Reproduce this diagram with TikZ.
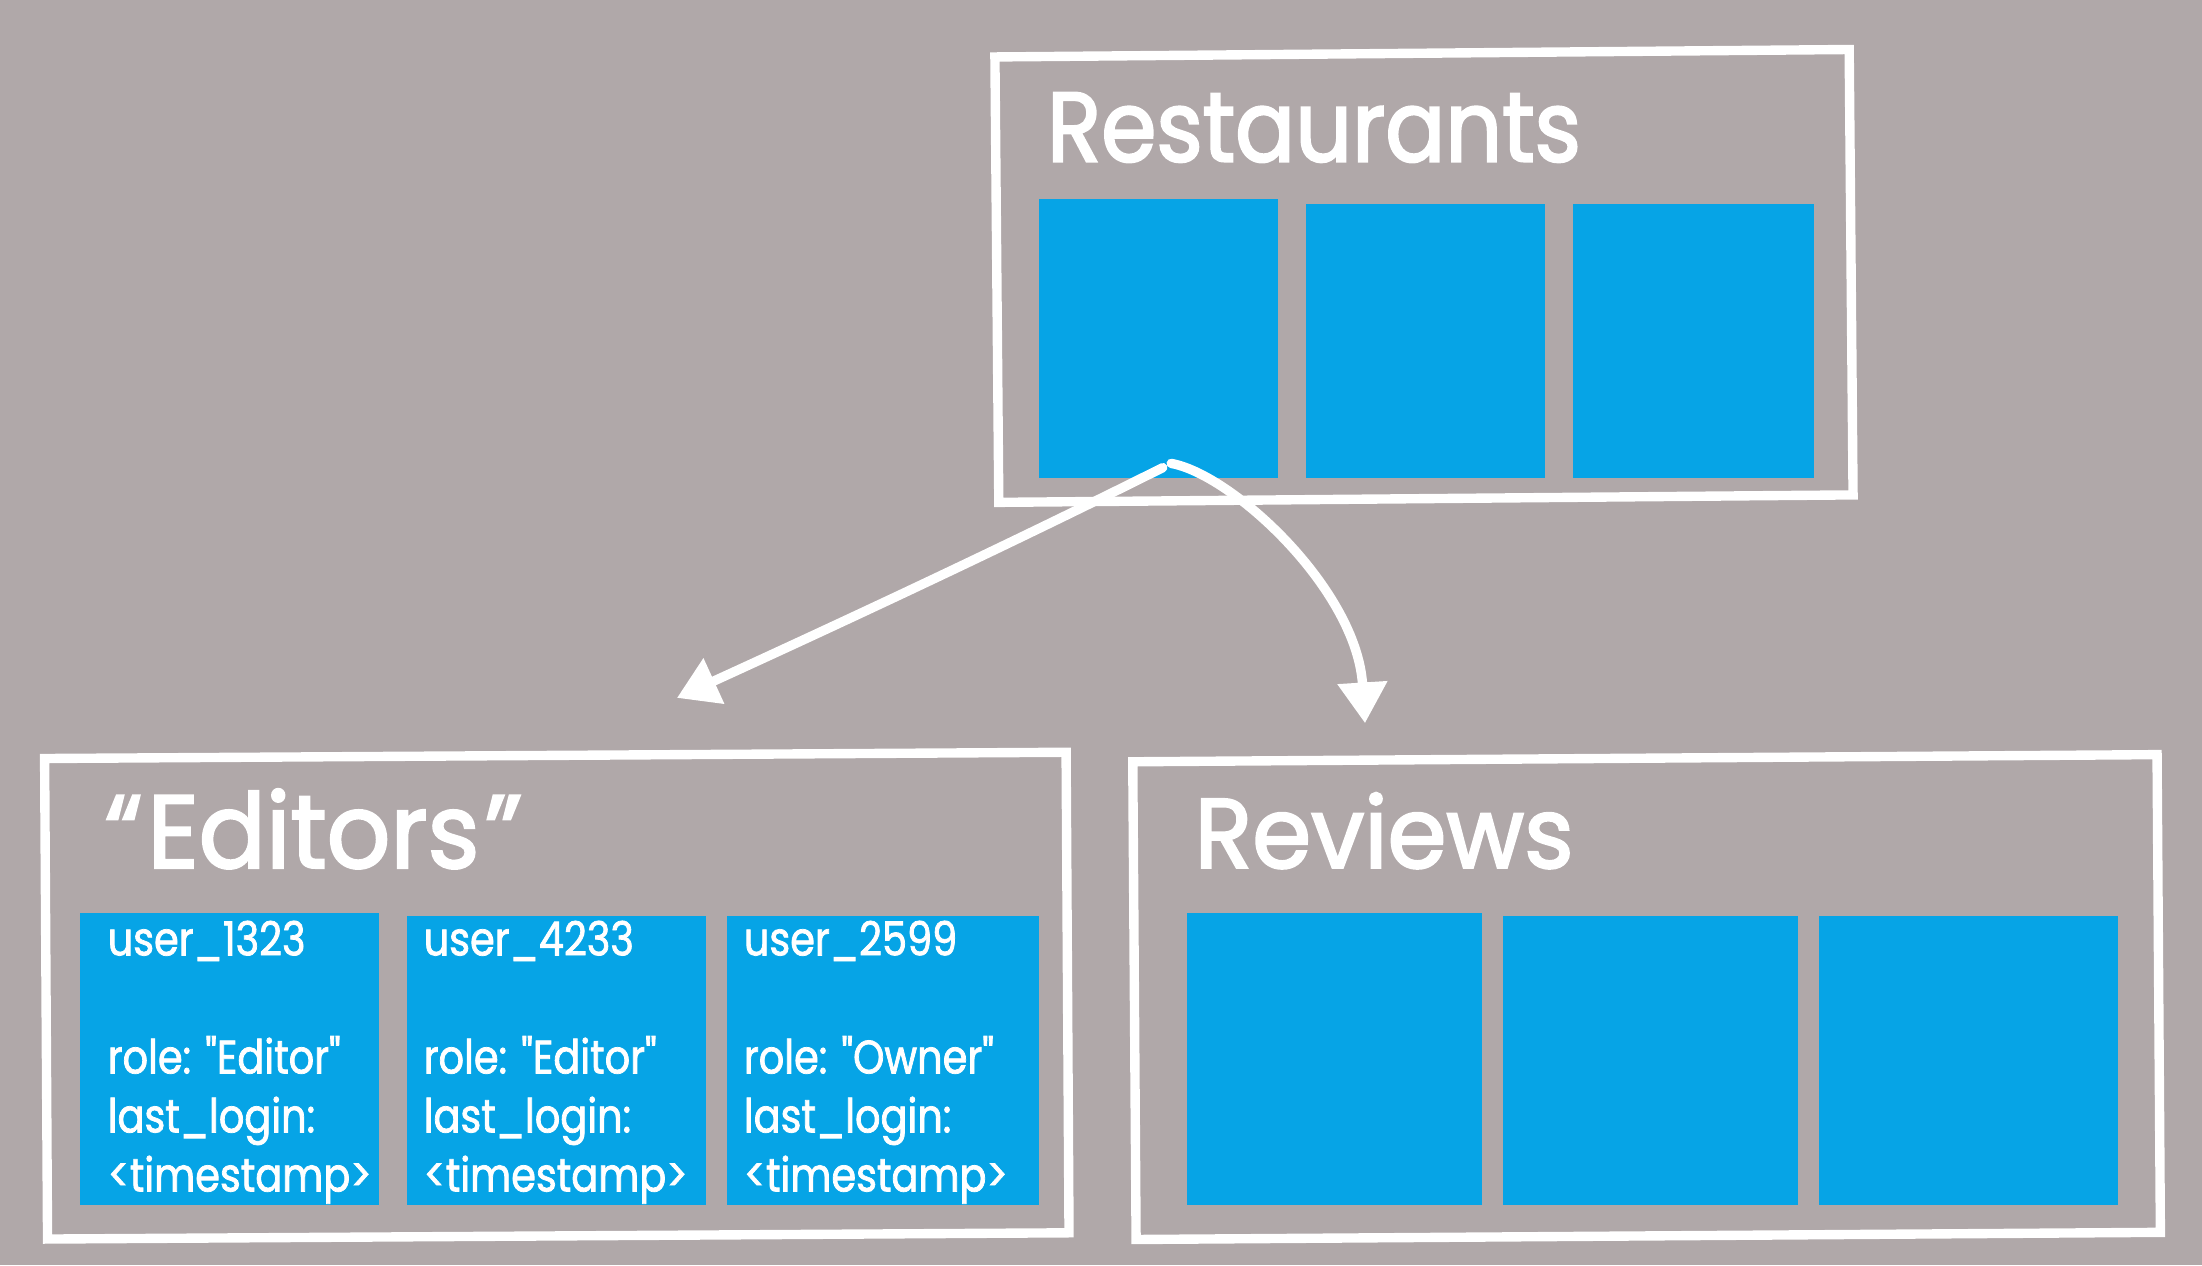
\documentclass[tikz,border=0pt]{standalone}
\usepackage{fontspec}
\setmainfont{Poppins}
\newfontfamily\condfont[FakeStretch=0.85,FakeBold=1.6]{Poppins}
\newfontfamily\titlefont[FakeStretch=0.9,FakeBold=2.2]{Poppins}
\newfontfamily\titlewide[FakeStretch=0.96,FakeBold=2.2]{Poppins}
\usetikzlibrary{arrows.meta}
\definecolor{bg}{HTML}{B0A8A9}
\definecolor{blu}{HTML}{06A4E6}
\begin{document}
\begin{tikzpicture}[x=0.01cm,y=-0.01cm,
  frame/.style={draw=white,line width=1.9pt,inner sep=0pt,outer sep=0pt},
  card/.style={fill=blu,inner sep=0pt,outer sep=0pt},
  title/.style={text=white,inner sep=0pt,anchor=base west,font=\titlefont\fontsize{20}{24}\selectfont},
  titleb/.style={title,font=\titlewide\fontsize{20}{24}\selectfont},
  celltext/.style={text=white,inner sep=0pt,anchor=north west,align=left,font=\condfont\fontsize{9.5}{11.95}\selectfont},
  conn/.style={draw=white,line width=1.9pt,line cap=round,-{Triangle[length=0.29cm,width=0.34cm]}}]
\fill[bg] (0,0) rectangle (1568,901);
\useasboundingbox (0,0) rectangle (1568,901);
% containers
\node[frame,rotate=0.5,minimum width=6.08cm,minimum height=3.17cm] (rest) at (1014,196.5) {};
\node[frame,rotate=0.35,minimum width=7.27cm,minimum height=3.42cm] (edit) at (396.5,709) {};
\node[frame,rotate=0.4,minimum width=7.29cm,minimum height=3.40cm] (revw) at (1172.5,710) {};
% titles
\node[title] (restT) at (745,115) {Restaurants};
\node[titleb,font=\titlewide\fontsize{21}{24}\selectfont] (editT) at (74,618) {“\kern1pt Editors\kern1pt”};
\node[titleb] (revwT) at (850,618) {Reviews};
% restaurant cards
\node[card,minimum width=1.70cm,minimum height=1.98cm] (r1) at (825,241) {};
\node[card,minimum width=1.70cm,minimum height=1.95cm] (r2) at (1015,242.5) {};
\node[card,minimum width=1.72cm,minimum height=1.95cm] (r3) at (1206,242.5) {};
% editor cards
\node[card,minimum width=2.13cm,minimum height=2.08cm] (e1) at (163.5,754) {};
\node[card,minimum width=2.13cm,minimum height=2.06cm] (e2) at (396.5,755) {};
\node[card,minimum width=2.22cm,minimum height=2.06cm] (e3) at (629,755) {};
\node[celltext] (e1t) at (76,655) {user\_1323\\[11.95pt]role: "Editor"\\last\_login:\\<timestamp>};
\node[celltext] (e2t) at (301,655) {user\_4233\\[11.95pt]role: "Editor"\\last\_login:\\<timestamp>};
\node[celltext] (e3t) at (529,655) {user\_2599\\[11.95pt]role: "Owner"\\last\_login:\\<timestamp>};
% review cards
\node[card,minimum width=2.10cm,minimum height=2.08cm] (v1) at (950,754) {};
\node[card,minimum width=2.10cm,minimum height=2.06cm] (v2) at (1175,755) {};
\node[card,minimum width=2.13cm,minimum height=2.06cm] (v3) at (1401.5,755) {};
% connectors
\coordinate (srcL) at (828,333);
\coordinate (srcR) at (834,330);
\coordinate (edtip) at (482,497);
\coordinate (rvtip) at (972,515);
\draw[conn] (srcL) .. controls (714,390) and (598,444) .. (edtip);
\draw[conn] (srcR) .. controls (878,338) and (966,420) .. (rvtip);
\end{tikzpicture}
\end{document}
